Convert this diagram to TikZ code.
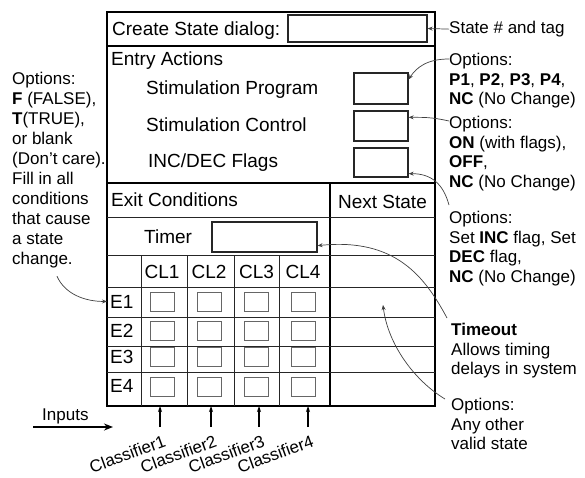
\documentclass[tikz,border=0pt]{standalone}
\usepackage{fontspec}
\setmainfont{Liberation Sans}
\usetikzlibrary{arrows.meta}
\tikzset{
 lbl/.style={font=\fontsize{19}{22}\selectfont, inner sep=0pt},
 note/.style={font=\fontsize{17}{19.5}\selectfont, align=left, inner sep=0pt, anchor=north west},
 fillbox/.style={draw=black!85, line width=1.3pt, inner sep=0pt, minimum width=54pt, minimum height=30pt},
 cellbox/.style={draw=black!60, line width=1pt, inner sep=0pt, minimum width=24pt, minimum height=19pt},
 frame/.style={line width=1.6pt},
 rule/.style={line width=0.9pt, black!85},
 pointer/.style={-{Stealth[length=5pt,width=4pt]}, black!75, line width=0.7pt},
}
\begin{document}
\begin{tikzpicture}[x=1pt,y=-1pt]
\useasboundingbox (0,0) rectangle (585,478);

\draw[frame] (107,12) rectangle (435,406);
\draw[frame] (107,46) -- (435,46) (107,183) -- (435,183) (330,183) -- (330,406);
\foreach \y in {217,255,287,317,346,372} \draw[rule] (107,\y) -- (435,\y);
\foreach \x in {141,187,234,279} \draw[rule] (\x,255) -- (\x,406);
\coordinate (tbot) at (107,406);
%Table lines

\node[lbl, anchor=base west] (dlg) at (112,36) {Create State dialog:};
\node[fillbox, minimum width=139pt, minimum height=27pt] (dlgbox) at (357.5,28.5) {};
\node[lbl, anchor=base west] (entry) at (111,66) {Entry Actions};
\node[lbl, anchor=base west] (prg) at (146,95) {Stimulation Program};
\node[lbl, anchor=base west] (ctl) at (146,132) {Stimulation Control};
\node[lbl, anchor=base west] (flg) at (148,168) {INC/DEC Flags};
\node[fillbox, minimum height=31pt] (prgbox) at (381,88.5) {};
\node[fillbox] (ctlbox) at (381,126) {};
\node[fillbox, minimum height=29pt] (flgbox) at (381,162.5) {};
%Entry actions

\node[lbl, anchor=base west] (exit) at (111,207) {Exit Conditions};
\node[lbl, anchor=base] (next) at (382.5,208) {Next State};
\node[lbl, anchor=base west] (timer) at (144,243) {Timer};
\node[fillbox, minimum width=105pt] (timbox) at (264.5,237) {};
\coordinate (nsE1) at (383,305);
%Exit conditions

\foreach \x [count=\i] in {162,209,256.5,303} {
  \node[lbl, anchor=base] (cl\i) at (\x,278) {CL\i};
  \foreach \y [count=\j] in {302,331,357,387}
    \node[cellbox] (c\j\i) at (\x,\y) {};
}
\foreach \y [count=\j] in {308,337,363,392}
  \node[lbl, anchor=base west] (e\j) at (110,\y) {E\j};
%Condition grid

\node[note, font=\fontsize{17}{20}\selectfont] (leftnote) at (12,72) {Options:\\\textbf{F} (FALSE),\\\textbf{T}(TRUE),\\or blank\\(Don't care).\\Fill in all\\conditions\\that cause\\a state\\change.};
\node[note] (statetag) at (449,21) {State \# and tag};
\node[note] (opts1) at (449,53) {Options:\\\textbf{P1}, \textbf{P2}, \textbf{P3}, \textbf{P4},\\\textbf{NC} (No Change)};
\node[note] (opts2) at (449,116) {Options:\\\textbf{ON} (with flags),\\\textbf{OFF},\\\textbf{NC} (No Change)};
\node[note] (opts3) at (449,211) {Options:\\Set \textbf{INC} flag, Set\\\textbf{DEC} flag,\\\textbf{NC} (No Change)};
\node[note] (timeout) at (451,323) {\textbf{Timeout}\\Allows timing\\delays in system};
\node[note] (opts4) at (451,398) {Options:\\Any other\\valid state};
%Annotations

\draw[pointer] (statetag.west) -- (dlgbox.east);
\draw[pointer] ([yshift=-6pt]opts1.north west) .. controls +(-22,0) and +(8,-12) .. ([yshift=-7pt]prgbox.north east);
\draw[pointer] ([yshift=-5pt]opts2.north west) .. controls +(-18,-4) and +(15,0) .. ([yshift=-7pt]ctlbox.north east);
\draw[pointer] ([shift={(0pt,6pt)}]opts3.north west) .. controls +(-6,-22) and +(22,0) .. ([yshift=4pt]flgbox.south east);
\draw[pointer] ([shift={(-4pt,5pt)}]timeout.north west) .. controls +(-22,-41) and +(78,-8) .. ([yshift=7pt]timbox.south east);
\draw[pointer] ([shift={(-6pt,-1pt)}]opts4.north west) .. controls +(-30,-18) and +(5,40) .. (nsE1);
\draw[pointer] ([shift={(45pt,-8pt)}]leftnote.south west) .. controls +(8,18) and +(-22,0) .. ([xshift=-3pt]e1.west);
%Pointers

\node[note, anchor=base west] (inputs) at (42,420) {Inputs};
\coordinate (inA) at (33,427);
\coordinate (inB) at (113,427);
\draw[-{Stealth[length=9pt,width=7pt]}, line width=1.8pt] (inA) -- (inB);
\foreach \x [count=\i] in {160,211,259,308} {
  \coordinate (k\i) at (\x,427);
  \draw[-{Stealth[length=6pt,width=4pt]}, line width=1.2pt] (k\i) -- (k\i |- tbot);
  \node[font=\fontsize{17}{19}\selectfont, inner sep=0pt, rotate=20, anchor=base east] (cls\i) at (\x+7,446) {Classifier\i};
}
%Inputs
\end{tikzpicture}
\end{document}
